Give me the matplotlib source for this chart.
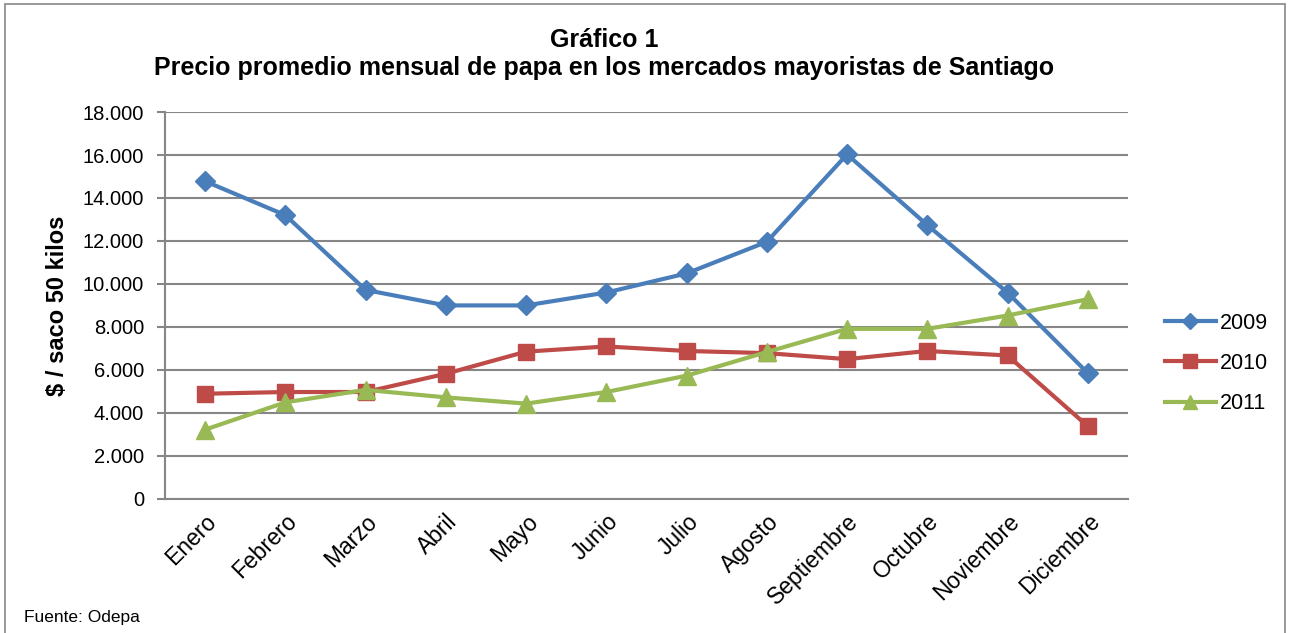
import numpy as np
import matplotlib
matplotlib.use("Agg")
import matplotlib.pyplot as plt
from matplotlib.patches import Rectangle
from matplotlib.ticker import FuncFormatter

plt.rcParams['font.family'] = ['Liberation Sans', 'DejaVu Sans']

meses = ["Enero", "Febrero", "Marzo", "Abril", "Mayo", "Junio", "Julio",
         "Agosto", "Septiembre", "Octubre", "Noviembre", "Diciembre"]
p2009 = [14780, 13200, 9720, 9000, 9000, 9600, 10490, 11960, 16030, 12740, 9600, 5850]
p2010 = [4890, 4970, 4970, 5820, 6850, 7090, 6880, 6780, 6500, 6880, 6670, 3380]
p2011 = [3220, 4490, 5070, 4720, 4430, 4970, 5730, 6830, 7910, 7910, 8530, 9290]

fig = plt.figure(figsize=(12.89, 6.33), dpi=100)
ax = fig.add_axes([0.128, 0.212, 0.747, 0.611])

x = np.arange(len(meses))
ax.plot(x, p2009, color="#4A7EBB", lw=3, marker="D", ms=10, label="2009")
ax.plot(x, p2010, color="#BE4B48", lw=3, marker="s", ms=12, label="2010")
ax.plot(x, p2011, color="#98B954", lw=3, marker="^", ms=13, label="2011")

ax.set_xlim(-0.5, 11.5)
ax.set_ylim(0, 18000)
ax.set_yticks(np.arange(0, 18001, 2000))
ax.yaxis.set_major_formatter(FuncFormatter(lambda v, p: f"{int(v):,}".replace(",", ".")))
ax.grid(axis="y", color="#868686", lw=1.5)
ax.set_axisbelow(True)
for s in ["top", "right"]:
    ax.spines[s].set_visible(False)
for s in ["left", "bottom"]:
    ax.spines[s].set_color("#868686")
    ax.spines[s].set_linewidth(1.5)
ax.tick_params(axis="y", length=6, color="#868686", width=1.5, labelsize=14.5, pad=9)
ax.tick_params(axis="x", length=0, labelsize=16.5, pad=8)
ax.set_xticks(x)
ax.set_xticklabels(meses, rotation=45, ha="right", rotation_mode="anchor")
ax.set_ylabel("$ / saco 50 kilos", fontsize=17, fontweight="bold", labelpad=10)

fig.text(0.469, 0.937, "Gráfico 1", ha="center", va="center",
         fontsize=18, fontweight="bold")
fig.text(0.469, 0.893, "Precio promedio mensual de papa en los mercados mayoristas de Santiago",
         ha="center", va="center", fontsize=18, fontweight="bold")

ax.legend(loc="center left", bbox_to_anchor=(1.018, 0.35), frameon=False,
          fontsize=15.5, handlelength=2.4, labelspacing=0.9, handletextpad=0.15,
          markerscale=0.8)

fig.text(0.019, 0.018, "Fuente: Odepa", fontsize=12.5)
fig.patches.append(Rectangle((0.004, -0.01), 0.993, 1.003, transform=fig.transFigure,
                             fill=False, edgecolor="#868686", lw=1.2))

fig.savefig("out.png", dpi=100)
